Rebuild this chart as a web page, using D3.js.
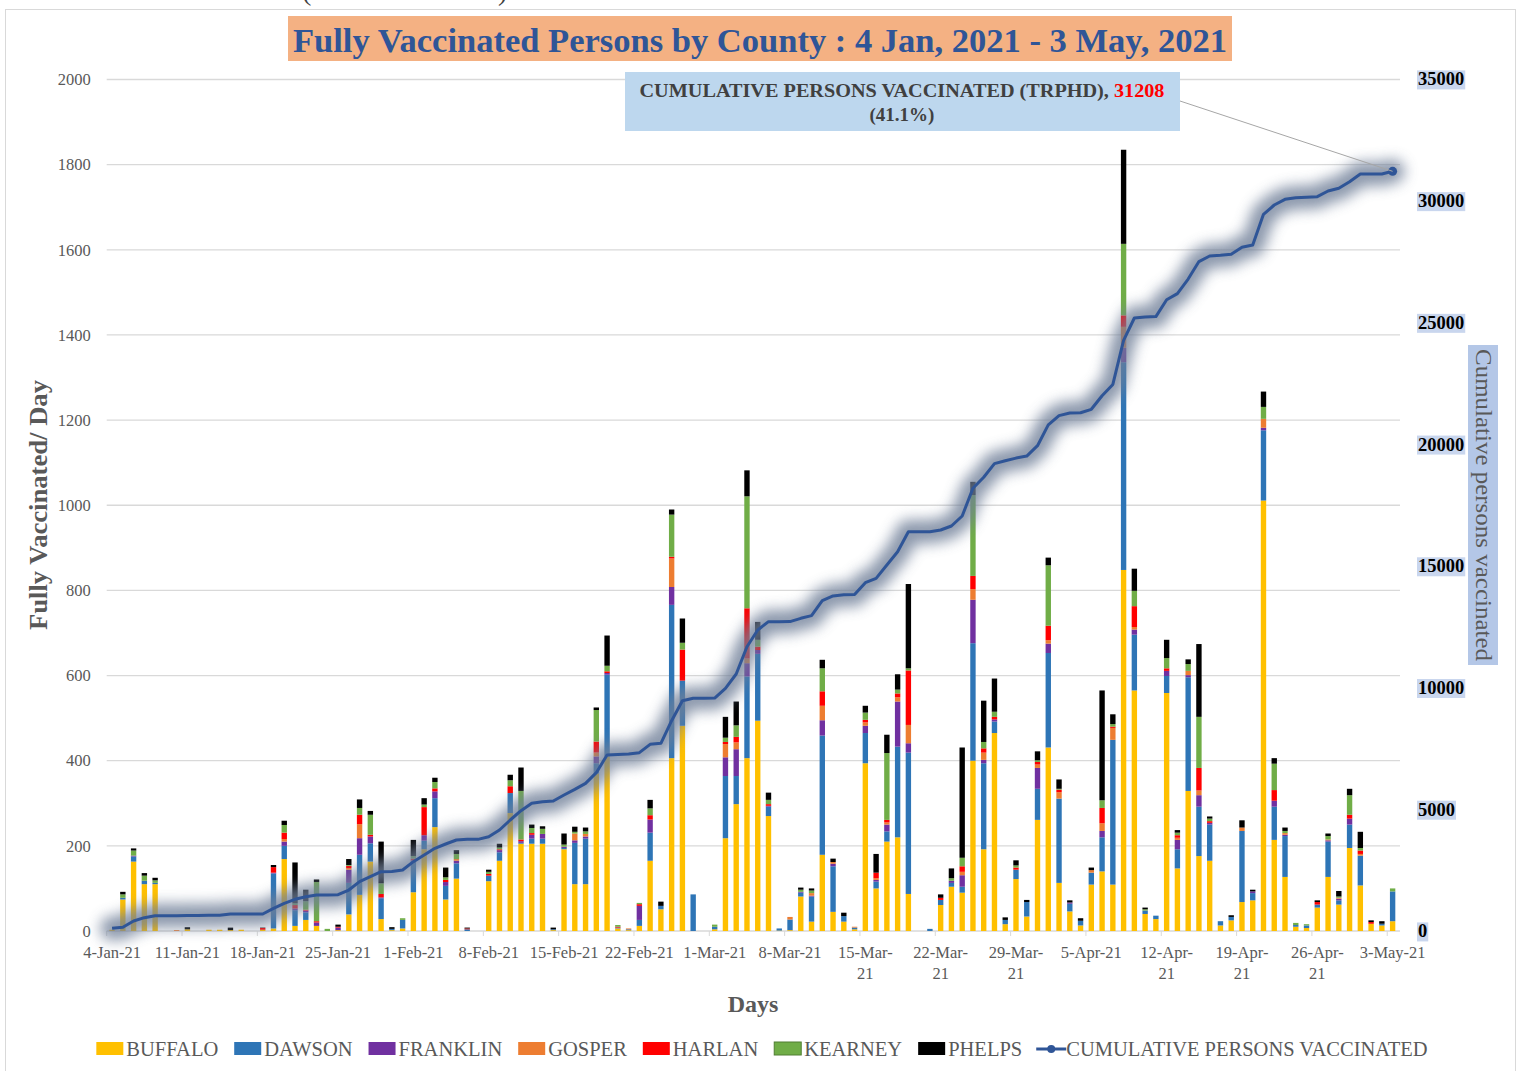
<!DOCTYPE html>
<html>
<head>
<meta charset="utf-8">
<script src="https://cdn.jsdelivr.net/npm/d3@7"></script>
<style>
    body { margin: 0; background: #fff; }
    svg text { font-family: "Liberation Serif", "DejaVu Serif", serif; }
</style>
</head>
<body>
<div id="chart"></div>
<script>

// days shown on the category axis: 4 Jan 2021 .. 3 May 2021
let days = d3.timeDay.range(new Date(2021, 0, 4), new Date(2021, 4, 4))

// labels every 7th day ("|" = line break like in the original)
let tickLabels = ["4-Jan-21", "11-Jan-21", "18-Jan-21", "25-Jan-21", "1-Feb-21", "8-Feb-21", "15-Feb-21",
    "22-Feb-21", "1-Mar-21", "8-Mar-21", "15-Mar-|21", "22-Mar-|21", "29-Mar-|21", "5-Apr-21",
    "12-Apr-|21", "19-Apr-|21", "26-Apr-|21", "3-May-21"]

let counties = ["BUFFALO", "DAWSON", "FRANKLIN", "GOSPER", "HARLAN", "KEARNEY", "PHELPS"]
let countyColors = ["#ffc000", "#2e75b6", "#7030a0", "#ed7d31", "#ff0000", "#70ad47", "#000000"]

// fully vaccinated per day, per county
let buffalo = [3,74,163,110,110,0,0,4,0,3, 3,2,3,0,3,6,169,12,26,12,
    0,2,39,85,163,28,2,6,91,192, 244,74,123,0,0,117,165,277,205,205,
    205,2,192,110,110,370,410,6,2,12, 165,51,406,482,0,0,4,218,298,406,
    494,270,1,2,81,22,179,45,22,4, 394,100,210,220,87,0,0,61,104,90,
    400,192,465,16,122,34,261,431,113,46, 13,109,140,109,848,565,40,28,559,147,
    329,176,165,13,25,68,72,1011,214,127, 10,7,55,127,62,195,107,17,13,23]

let dawson = [0,4,12,8,3,0,0,0,0,0, 0,0,0,0,0,129,31,37,18,0,
    0,0,74,94,43,49,3,20,72,20, 68,32,36,4,0,13,20,47,2,12,
    12,2,3,97,107,24,192,2,2,14, 66,8,360,106,86,0,6,146,66,192,
    157,22,5,25,9,59,280,107,13,4, 71,16,24,213,332,0,5,12,9,14,
    276,202,27,10,22,34,73,222,198,18, 11,28,80,340,488,131,8,8,40,45,
    267,116,85,10,8,167,17,165,78,96, 4,6,7,83,10,55,70,0,4,70]

let franklin = [0,0,2,0,0,0,0,0,0,0, 0,0,0,0,0,2,10,4,4,8,
    0,6,31,39,16,2,0,0,3,13, 16,9,6,0,0,0,5,0,4,9,
    11,0,3,6,5,16,4,0,0,33, 31,0,42,0,0,0,0,44,63,31,
    9,2,0,0,2,2,36,6,0,0, 17,4,16,106,22,0,0,0,5,27,
    102,8,5,0,0,0,49,22,0,3, 0,0,15,0,34,12,0,0,12,22,
    5,27,4,0,0,0,4,6,14,3, 0,0,0,3,4,14,0,0,0,0]

let gosper = [0,0,0,0,0,0,2,0,0,0, 0,0,0,0,0,0,6,0,0,0,
    0,0,4,33,0,0,0,0,0,0, 0,0,4,0,0,0,0,0,0,0,
    0,0,0,16,6,9,0,0,2,0, 0,0,67,0,0,0,0,31,16,11,
    0,0,0,6,0,6,34,4,0,2, 8,4,5,10,43,0,0,0,0,8,
    25,17,0,0,0,0,8,8,15,0, 0,6,18,28,49,6,0,0,0,5,
    10,11,0,0,0,8,0,21,0,4, 0,0,0,2,2,0,4,0,0,0]

let harlan = [0,0,0,0,0,0,0,0,0,0, 0,0,0,0,4,13,15,8,2,3,
    0,2,5,22,4,8,0,0,4,66, 7,5,0,2,0,4,2,16,4,4,
    0,0,0,0,0,26,4,2,0,4, 10,0,4,73,0,0,0,5,13,118,
    8,4,0,0,0,0,34,0,0,0, 6,13,6,9,128,0,0,5,0,13,
    31,10,6,0,5,0,6,34,6,0, 0,0,36,3,27,49,0,0,6,6,
    0,53,4,0,0,0,0,0,25,0, 0,0,6,0,0,9,8,4,0,0]

let kearney = [0,8,12,12,6,0,0,0,0,0, 0,0,0,0,0,0,18,4,20,92,
    5,0,2,16,47,25,0,4,6,6, 15,6,12,0,0,5,4,14,114,12,
    12,0,5,4,6,74,13,4,0,3, 16,0,99,16,0,0,5,10,27,263,
    16,10,0,0,5,6,54,0,0,0, 17,0,157,9,5,0,0,0,6,20,
    190,15,12,0,5,0,4,142,2,0, 0,0,18,6,168,36,3,0,24,6,
    16,120,6,0,0,0,0,28,62,5, 5,3,0,8,3,46,6,0,0,7]

let phelps = [0,6,5,6,6,0,0,5,0,0, 0,6,0,0,1,5,10,96,27,6,
    0,5,14,20,9,98,4,0,38,15, 10,23,9,2,0,5,9,13,55,8,
    6,4,26,12,9,6,71,0,0,0, 20,10,12,57,0,0,0,49,56,61,
    42,17,0,0,5,5,20,8,8,0, 16,44,43,36,198,0,0,8,23,259,
    31,97,78,6,12,5,21,18,22,5, 6,6,258,23,221,52,4,0,43,6,
    11,171,5,0,4,17,4,36,13,8, 0,0,4,6,13,15,38,4,6,0]

// cumulative persons vaccinated (TRPHD), right axis
let cumulative = [111,152,411,547,629,629,631,640,640,643, 646,698,698,698,700,931,1137,1302,1410,1479,
    1479,1490,1684,2026,2232,2437,2440,2506,2848,3122, 3396,3574,3738,3765,3765,3875,4149,4560,4943,5250,
    5313,5340,5587,5820,6066,6504,7230,7250,7271,7326, 7669,7710,8640,9461,9560,9560,9570,9970,10558,11679,
    12365,12707,12707,12710,12845,12954,13570,13762,13817,13820, 14310,14488,15035,15581,16403,16403,16405,16473,16637,17048,
    18186,18638,19200,19320,19427,19509,19936,20791,21173,21280, 21290,21431,21986,22454,24266,25182,25227,25240,25929,26184,
    26783,27500,27730,27760,27800,28086,28180,29440,29824,30058, 30125,30145,30165,30399,30510,30782,31098,31100,31100,31208]

let leftTicks = [0, 200, 400, 600, 800, 1000, 1200, 1400, 1600, 1800, 2000]
let rightTicks = [0, 5000, 10000, 15000, 20000, 25000, 30000, 35000]

let countySeries = [buffalo, dawson, franklin, gosper, harlan, kearney, phelps]


class VaccineVis {

    constructor(parentElement) {
        this.parentElement = parentElement
        this.initVis()
    }

    initVis() {
        let vis = this

        vis.width = 1523
        vis.height = 1071
        vis.plot = {left: 106.7, right: 1398, top: 79.5, bottom: 931}

        vis.svg = d3.select("#" + vis.parentElement).append("svg")
            .attr("width", vis.width)
            .attr("height", vis.height)

        // outer chart border
        vis.svg.append("rect")
            .attr("x", 5.5).attr("y", 9.5)
            .attr("width", 1510).attr("height", 1070)
            .attr("fill", "none")
            .attr("stroke", "#d9d9d9")

        // leftover brackets of the text above the chart (cut off in the original too)
        vis.svg.append("text").attr("x", 302).attr("y", 0).attr("font-size", 28).attr("fill", "#404040").text("(")
        vis.svg.append("text").attr("x", 498).attr("y", 0).attr("font-size", 28).attr("fill", "#404040").text(")")

        // glow filter for the cumulative line
        let defs = vis.svg.append("defs")
        defs.append("filter")
            .attr("id", "glow")
            .attr("filterUnits", "userSpaceOnUse")
            .attr("x", 0).attr("y", 0).attr("width", vis.width).attr("height", vis.height)
            .append("feGaussianBlur")
            .attr("stdDeviation", 7)

        // scales
        vis.x = d3.scaleBand()
            .domain(d3.range(days.length))
            .range([vis.plot.left, vis.plot.right])
            .paddingInner(0.5)
            .paddingOuter(0.25)

        vis.y = d3.scaleLinear()
            .domain([0, 2000])
            .range([vis.plot.bottom, vis.plot.top])

        vis.yRight = d3.scaleLinear()
            .domain([0, 35000])
            .range([vis.plot.bottom, 79])

        // gridlines
        vis.svg.append("g").attr("class", "grid")
            .selectAll("line").data(leftTicks.slice(1))
            .enter().append("line")
            .attr("x1", vis.plot.left).attr("x2", 1400)
            .attr("y1", d => vis.y(d)).attr("y2", d => vis.y(d))
            .attr("stroke", "#d9d9d9")
            .attr("stroke-width", 1.3)

        vis.drawAxes()
        vis.drawBars()
        vis.drawLine()
        vis.drawTitles()
        vis.drawLegend()
    }

    drawAxes() {
        let vis = this

        // left axis
        let leftAxis = vis.svg.append("g")
            .attr("class", "axis y-axis")
            .attr("transform", `translate(${vis.plot.left}, 0)`)
            .call(d3.axisLeft(vis.y).tickValues(leftTicks).tickSize(0).tickPadding(16).tickFormat(d3.format("d")))
        leftAxis.select(".domain").remove()
        leftAxis.selectAll("text")
            .attr("font-family", "Liberation Serif")
            .attr("font-size", 16.5)
            .attr("fill", "#595959")

        // bottom axis line + tick marks between categories every 7 days
        vis.svg.append("line")
            .attr("x1", vis.plot.left).attr("x2", 1400)
            .attr("y1", vis.plot.bottom).attr("y2", vis.plot.bottom)
            .attr("stroke", "#d9d9d9").attr("stroke-width", 1.3)

        let step = vis.x.step()
        vis.svg.append("g")
            .selectAll("line").data(d3.range(0, days.length, 7))
            .enter().append("line")
            .attr("x1", d => vis.x(d) - step * 0.25).attr("x2", d => vis.x(d) - step * 0.25)
            .attr("y1", vis.plot.bottom).attr("y2", vis.plot.bottom + 5)
            .attr("stroke", "#d9d9d9")

        let bottomAxis = vis.svg.append("g")
            .attr("class", "axis x-axis")
            .attr("transform", `translate(0, ${vis.plot.bottom})`)
            .call(d3.axisBottom(vis.x)
                .tickValues(d3.range(0, days.length, 7))
                .tickSize(0)
                .tickPadding(15)
                .tickFormat((d, i) => tickLabels[i]))
        bottomAxis.select(".domain").remove()
        bottomAxis.selectAll("text")
            .attr("font-family", "Liberation Serif")
            .attr("font-size", 16.5)
            .attr("fill", "#595959")
            .each(function (d, i) {
                let parts = tickLabels[i].split("|")
                let t = d3.select(this).text(null)
                parts.forEach((p, k) => {
                    t.append("tspan").attr("x", 0).attr("dy", k === 0 ? "0.71em" : "1.3em").text(p)
                })
            })

        // right axis with highlighted labels
        let rightAxis = vis.svg.append("g")
            .attr("class", "axis y-axis-right")
            .attr("transform", `translate(1418, 0)`)
            .call(d3.axisRight(vis.yRight).tickValues(rightTicks).tickSize(0).tickPadding(0).tickFormat(d3.format("d")))
        rightAxis.select(".domain").remove()
        rightAxis.selectAll(".tick text")
            .attr("font-family", "Liberation Serif")
            .attr("font-weight", "bold")
            .attr("font-size", 18.5)
            .attr("fill", "#000")
        rightAxis.selectAll(".tick").each(function () {
            let tick = d3.select(this)
            let bb = tick.select("text").node().getBBox()
            tick.insert("rect", "text")
                .attr("x", bb.x - 1).attr("y", bb.y + 1)
                .attr("width", bb.width + 2).attr("height", bb.height - 1)
                .attr("fill", "#c9d6ee")
        })
    }

    drawBars() {
        let vis = this

        // table for the stack layout
        let table = days.map((d, i) => {
            let row = {index: i}
            counties.forEach((c, k) => row[c] = countySeries[k][i])
            return row
        })

        let stack = d3.stack().keys(counties)(table)

        vis.svg.append("g").attr("class", "bars")
            .selectAll("g").data(stack)
            .enter().append("g")
            .attr("fill", (d, i) => countyColors[i])
            .selectAll("rect").data(d => d)
            .enter().append("rect")
            .attr("x", d => vis.x(d.data.index))
            .attr("width", vis.x.bandwidth())
            .attr("y", d => vis.y(d[1]))
            .attr("height", d => vis.y(d[0]) - vis.y(d[1]))
    }

    drawLine() {
        let vis = this

        let line = d3.line()
            .x((d, i) => vis.x(i) + vis.x.bandwidth() / 2)
            .y(d => vis.yRight(d))

        // soft grey glow behind the line
        vis.svg.append("path")
            .datum(cumulative)
            .attr("d", line)
            .attr("fill", "none")
            .attr("stroke", "#6f7f98")
            .attr("stroke-width", 24)
            .attr("stroke-linejoin", "round")
            .attr("stroke-linecap", "round")
            .attr("opacity", 0.8)
            .attr("filter", "url(#glow)")

        vis.svg.append("path")
            .datum(cumulative)
            .attr("d", line)
            .attr("fill", "none")
            .attr("stroke", "#2f5597")
            .attr("stroke-width", 3)
            .attr("stroke-linejoin", "round")

        // marker on the last point
        let last = cumulative.length - 1
        vis.lastX = vis.x(last) + vis.x.bandwidth() / 2
        vis.lastY = vis.yRight(cumulative[last])
        vis.svg.append("circle")
            .attr("cx", vis.lastX).attr("cy", vis.lastY)
            .attr("r", 4.5)
            .attr("fill", "#2f5597")
    }

    drawTitles() {
        let vis = this

        // chart title
        vis.svg.append("rect")
            .attr("x", 288).attr("y", 16)
            .attr("width", 944).attr("height", 45)
            .attr("fill", "#f4b183")
        vis.svg.append("text")
            .attr("x", 760).attr("y", 52)
            .attr("text-anchor", "middle")
            .attr("font-size", 34)
            .attr("font-weight", "bold")
            .attr("fill", "#2f5597")
            .attr("textLength", 934)
            .attr("lengthAdjust", "spacingAndGlyphs")
            .text("Fully Vaccinated Persons by County : 4 Jan, 2021 - 3 May, 2021")

        // data callout for the last cumulative value
        vis.svg.append("line")
            .attr("x1", 1180).attr("y1", 101)
            .attr("x2", vis.lastX).attr("y2", vis.lastY)
            .attr("stroke", "#a6a6a6")
        vis.svg.append("rect")
            .attr("x", 625).attr("y", 72)
            .attr("width", 555).attr("height", 59)
            .attr("fill", "#bdd7ee")
        let callout = vis.svg.append("text")
            .attr("x", 902).attr("y", 97)
            .attr("text-anchor", "middle")
            .attr("font-size", 19)
            .attr("font-weight", "bold")
            .attr("fill", "#404040")
            .attr("textLength", 525)
            .attr("lengthAdjust", "spacingAndGlyphs")
        callout.append("tspan").text("CUMULATIVE PERSONS VACCINATED (TRPHD), ")
        callout.append("tspan").attr("fill", "#ff0000").text(cumulative[cumulative.length - 1])
        vis.svg.append("text")
            .attr("x", 902).attr("y", 121)
            .attr("text-anchor", "middle")
            .attr("font-size", 19)
            .attr("font-weight", "bold")
            .attr("fill", "#404040")
            .text("(41.1%)")

        // axis titles
        vis.svg.append("text")
            .attr("transform", "translate(47, 505) rotate(-90)")
            .attr("text-anchor", "middle")
            .attr("font-size", 25)
            .attr("font-weight", "bold")
            .attr("fill", "#595959")
            .attr("textLength", 250)
            .attr("lengthAdjust", "spacingAndGlyphs")
            .text("Fully Vaccinated/ Day")

        vis.svg.append("text")
            .attr("x", 753).attr("y", 1012)
            .attr("text-anchor", "middle")
            .attr("font-size", 24)
            .attr("font-weight", "bold")
            .attr("fill", "#595959")
            .text("Days")

        vis.svg.append("rect")
            .attr("x", 1468).attr("y", 345)
            .attr("width", 30).attr("height", 320)
            .attr("fill", "#b4c7e7")
        vis.svg.append("text")
            .attr("transform", "translate(1476, 505) rotate(90)")
            .attr("text-anchor", "middle")
            .attr("font-size", 23)
            .attr("fill", "#595959")
            .attr("textLength", 312)
            .attr("lengthAdjust", "spacingAndGlyphs")
            .text("Cumulative persons vaccinated")
    }

    drawLegend() {
        let vis = this

        let legend = vis.svg.append("g").attr("class", "legend")
        let x = 0
        counties.forEach((c, i) => {
            let item = legend.append("g").attr("transform", `translate(${x}, 0)`)
            item.append("rect")
                .attr("x", 0).attr("y", -7)
                .attr("width", 27).attr("height", 13)
                .attr("fill", countyColors[i])
                .attr("stroke", c === "KEARNEY" ? "#507e32" : "none")
            let t = item.append("text")
                .attr("x", 30).attr("y", 7)
                .attr("font-size", 20.5)
                .attr("fill", "#595959")
                .text(c)
            x += 30 + t.node().getComputedTextLength() + 16
        })

        let item = legend.append("g").attr("transform", `translate(${x - 2}, 0)`)
        item.append("line")
            .attr("x1", 0).attr("x2", 30).attr("y1", 0).attr("y2", 0)
            .attr("stroke", "#2f5597").attr("stroke-width", 3)
        item.append("circle").attr("cx", 15).attr("cy", 0).attr("r", 4).attr("fill", "#2f5597")
        let t = item.append("text")
            .attr("x", 30).attr("y", 7)
            .attr("font-size", 20.5)
            .attr("fill", "#595959")
            .text("CUMULATIVE PERSONS VACCINATED")
        let total = x - 2 + 30 + t.node().getComputedTextLength()

        legend.attr("transform", `translate(${762 - total / 2}, 1049)`)
    }
}

new VaccineVis("chart")

</script>
</body>
</html>
